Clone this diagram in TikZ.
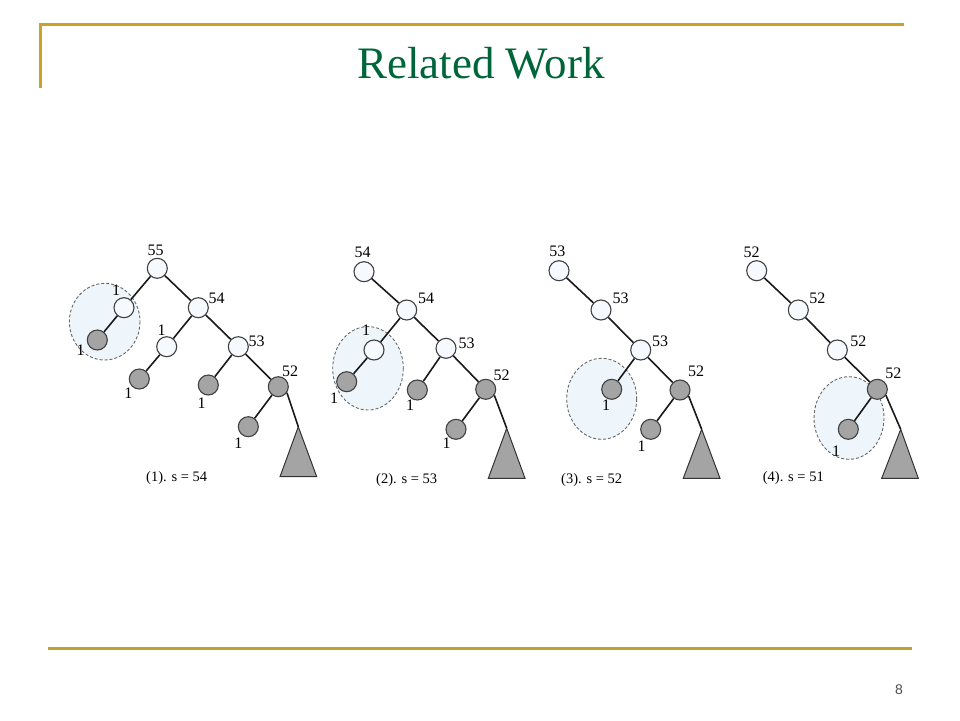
\documentclass[tikz,border=0pt]{standalone}
\usepackage{fontspec}
\setmainfont{Liberation Serif}
\newfontfamily\pagefont{Liberation Sans}
\definecolor{rulegold}{HTML}{C9A227}
\definecolor{rulegoldb}{HTML}{BFA22E}
\definecolor{titlegreen}{HTML}{00663A}
\definecolor{nodewhite}{HTML}{F6FAFE}
\definecolor{nodegray}{HTML}{A4A4A4}
\definecolor{bubble}{HTML}{EEF6FC}
\tikzset{
  wnode/.style={circle,draw=black!75,line width=1.1pt,fill=nodewhite,minimum size=20pt,inner sep=0pt},
  gnode/.style={circle,draw=black!75,line width=1.1pt,fill=nodegray,minimum size=20pt,inner sep=0pt},
  lbl/.style={font=\fontsize{16}{16}\selectfont,inner sep=0pt},
  captext/.style={font=\fontsize{14.5}{14.5}\selectfont,inner sep=0pt},
  edge/.style={line width=1.6pt,black!90},
  bubblestyle/.style={draw=black!60,dashed,dash pattern=on 3pt off 2pt,line width=0.9pt,fill=bubble},
  subtree/.style={draw=black!80,line width=1pt,fill=nodegray},
}
\begin{document}
\begin{tikzpicture}[x=1pt,y=-1pt]
\useasboundingbox (0,0) rectangle (960,720);
% frame rules
\draw[rulegold,line width=3pt] (40,88) -- (40,24) -- (904,24);
\draw[rulegoldb,line width=3pt] (48,648) -- (912,648);
\node[anchor=base,text=titlegreen,font=\fontsize{45}{45}\selectfont,inner sep=0pt] (title) at (481,78) {Related Work};
\node[text=black!70,font=\pagefont\fontsize{14}{14}\selectfont,inner sep=0pt] (pagenum) at (899,690) {8};

% ---------- bubbles ----------
\draw[bubblestyle] (104.7,321.7) ellipse [x radius=35.3,y radius=38.3];
\draw[bubblestyle] (368,368.3) ellipse [x radius=35.3,y radius=41.7];
\draw[bubblestyle] (601.7,398.8) ellipse [x radius=35,y radius=40.5];
\draw[bubblestyle] (849,418) ellipse [x radius=35,y radius=41.3];

% ---------- tree 1 ----------
\node[wnode] (a1) at (157.3,268.3) {};
\node[wnode] (b1) at (124,307.7) {};
\node[gnode] (c1) at (97.3,340) {};
\node[wnode] (d1) at (198.3,307.7) {};
\node[wnode] (e1) at (166.7,346.7) {};
\node[gnode] (f1) at (139.3,379) {};
\node[wnode] (g1) at (238.3,346.7) {};
\node[gnode] (h1) at (208.3,385) {};
\node[gnode] (i1) at (278.3,386.7) {};
\node[gnode] (j1) at (248.3,426.7) {};
\coordinate (t1) at (298.3,426.7);
\draw[subtree] (t1) -- (280,476.7) -- (316.7,476.7) -- cycle;
\draw[edge] (a1) -- (b1);
\draw[edge] (b1) -- (c1);
\draw[edge] (a1) -- (d1);
\draw[edge] (d1) -- (e1);
\draw[edge] (e1) -- (f1);
\draw[edge] (d1) -- (g1);
\draw[edge] (g1) -- (h1);
\draw[edge] (g1) -- (i1);
\draw[edge] (i1) -- (j1);
\draw[edge] (i1.-35) -- (t1);
\node[lbl] (la1) at (155.7,250.7) {55};
\node[lbl] (lb1) at (116,290.7) {1};
\node[lbl] (lc1) at (80.7,350) {1};
\node[lbl] (ld1) at (216.7,298.3) {54};
\node[lbl] (le1) at (161.7,330) {1};
\node[lbl] (lf1) at (128.3,393.3) {1};
\node[lbl] (lg1) at (256.7,341.7) {53};
\node[lbl] (lh1) at (201.7,403.3) {1};
\node[lbl] (li1) at (290,371.7) {52};
\node[lbl] (lj1) at (238.3,443.3) {1};
\node[captext] (cap1) at (176.7,478.3) {(1). s = 54};

% ---------- tree 2 ----------
\node[wnode] (a2) at (364,271.7) {};
\node[wnode] (d2) at (406.7,310) {};
\node[wnode] (b2) at (374,350) {};
\node[gnode] (c2) at (346.7,381.7) {};
\node[wnode] (g2) at (446,348.3) {};
\node[gnode] (h2) at (417.3,390) {};
\node[gnode] (i2) at (485.7,389.3) {};
\node[gnode] (j2) at (456,429.3) {};
\coordinate (t2) at (506.7,428.3);
\draw[subtree] (t2) -- (488.3,478.3) -- (525,478.3) -- cycle;
\draw[edge] (a2) -- (d2);
\draw[edge] (d2) -- (b2);
\draw[edge] (b2) -- (c2);
\draw[edge] (d2) -- (g2);
\draw[edge] (g2) -- (h2);
\draw[edge] (g2) -- (i2);
\draw[edge] (i2) -- (j2);
\draw[edge] (i2.-35) -- (t2);
\node[lbl] (la2) at (362.7,252.7) {54};
\node[lbl] (ld2) at (426,298.3) {54};
\node[lbl] (lb2) at (366,330) {1};
\node[lbl] (lc2) at (334,398.3) {1};
\node[lbl] (lg2) at (466.7,343.3) {53};
\node[lbl] (lh2) at (410,405) {1};
\node[lbl] (li2) at (501.7,375) {52};
\node[lbl] (lj2) at (446.7,443.3) {1};
\node[captext] (cap2) at (406.7,480) {(2). s = 53};

% ---------- tree 3 ----------
\node[wnode] (a3) at (559,270.7) {};
\node[wnode] (d3) at (601,310) {};
\node[wnode] (g3) at (640.7,350) {};
\node[gnode] (h3) at (611.7,389.3) {};
\node[gnode] (i3) at (680,390) {};
\node[gnode] (j3) at (650.7,429.3) {};
\coordinate (t3) at (701.7,429.3);
\draw[subtree] (t3) -- (683.3,478.3) -- (720,478.3) -- cycle;
\draw[edge] (a3) -- (d3);
\draw[edge] (d3) -- (g3);
\draw[edge] (g3) -- (h3);
\draw[edge] (g3) -- (i3);
\draw[edge] (i3) -- (j3);
\draw[edge] (i3.-35) -- (t3);
\node[lbl] (la3) at (557.3,251.7) {53};
\node[lbl] (ld3) at (620.7,298.3) {53};
\node[lbl] (lg3) at (660,341) {53};
\node[lbl] (lh3) at (606,405) {1};
\node[lbl] (li3) at (696,371.7) {52};
\node[lbl] (lj3) at (641.7,446.7) {1};
\node[captext] (cap3) at (591.7,480) {(3). s = 52};

% ---------- tree 4 ----------
\node[wnode] (a4) at (756.7,270.7) {};
\node[wnode] (d4) at (798.3,310) {};
\node[wnode] (g4) at (837.3,350) {};
\node[gnode] (i4) at (877.3,389.3) {};
\node[gnode] (j4) at (848.3,429.3) {};
\coordinate (t4) at (900.7,429.3);
\draw[subtree] (t4) -- (881.7,478.3) -- (918.3,478.3) -- cycle;
\draw[edge] (a4) -- (d4);
\draw[edge] (d4) -- (g4);
\draw[edge] (g4) -- (i4);
\draw[edge] (i4) -- (j4);
\draw[edge] (i4.-35) -- (t4);
\node[lbl] (la4) at (751.7,252.7) {52};
\node[lbl] (ld4) at (817.3,298.3) {52};
\node[lbl] (lg4) at (858.3,341) {52};
\node[lbl] (li4) at (893.3,373.3) {52};
\node[lbl] (lj4) at (836,451.7) {1};
\node[captext] (cap4) at (793.3,478.3) {(4). s = 51};
\end{tikzpicture}
\end{document}
